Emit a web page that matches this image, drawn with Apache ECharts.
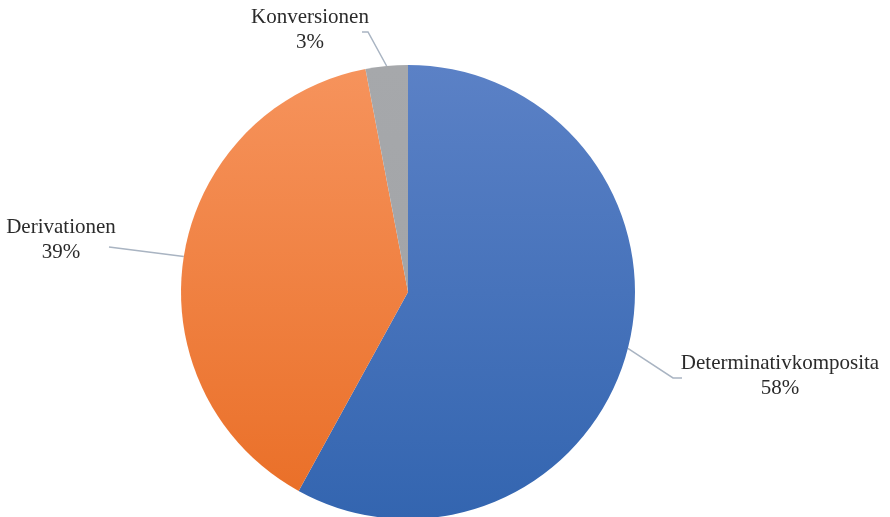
<!DOCTYPE html>
<html>
<head>
<meta charset="utf-8">
<script src="https://cdn.jsdelivr.net/npm/echarts@6/dist/echarts.min.js"></script>
<style>
  html, body { margin: 0; padding: 0; background: #ffffff; }
  #chart { width: 890px; height: 517px; }
</style>
</head>
<body>
<div id="chart"></div>
<script>
// Word-formation types and their shares (percent)
const categories = ['Determinativkomposita', 'Derivationen', 'Konversionen'];
const shares = [58, 39, 3];

// Vertical gradient per slice: [top colour, bottom colour]
const sliceColors = [
  ['#5b81c6', '#3365b0'],
  ['#f6935c', '#ea7029'],
  ['#a6a8ab', '#a3a5a8']
];

// Label block centres and leader-line bend points, per slice
const labelSpots = [
  { x: 780, y: 376, bend: [[673, 378], [682, 378]] },
  { x: 61,  y: 240, bend: [[109, 247]] },
  { x: 310, y: 30,  bend: [[368, 32], [362, 32]] }
];

const chart = echarts.init(document.getElementById('chart'), null, { renderer: 'canvas' });

const pieData = categories.map((name, i) => ({
  name: name,
  value: shares[i],
  itemStyle: {
    color: new echarts.graphic.LinearGradient(0, 0, 0, 1, [
      { offset: 0, color: sliceColors[i][0] },
      { offset: 1, color: sliceColors[i][1] }
    ])
  }
}));

chart.setOption({
  animation: false,
  backgroundColor: '#ffffff',
  series: [{
    type: 'pie',
    center: [408, 292],
    radius: 227,
    startAngle: 90,
    clockwise: true,
    data: pieData,
    itemStyle: { borderWidth: 0 },
    label: {
      show: true,
      position: 'outside',
      formatter: p => p.name + '\n' + Math.round(p.percent) + '%',
      fontFamily: '"Liberation Serif", "DejaVu Serif", serif',
      fontSize: 21,
      lineHeight: 25,
      color: '#2b2b2b',
      align: 'center'
    },
    labelLine: {
      show: true,
      smooth: false,
      lineStyle: { color: '#a9b4c2', width: 1.5 }
    },
    labelLayout: function (params) {
      const spot = labelSpots[params.dataIndex];
      const start = params.labelLinePoints ? params.labelLinePoints[0] : null;
      const pts = start ? [start].concat(spot.bend) : null;
      if (pts && pts.length === 2) pts.push(spot.bend[0]);
      return {
        x: spot.x,
        y: spot.y,
        align: 'center',
        verticalAlign: 'middle',
        labelLinePoints: pts
      };
    }
  }]
});
</script>
</body>
</html>
